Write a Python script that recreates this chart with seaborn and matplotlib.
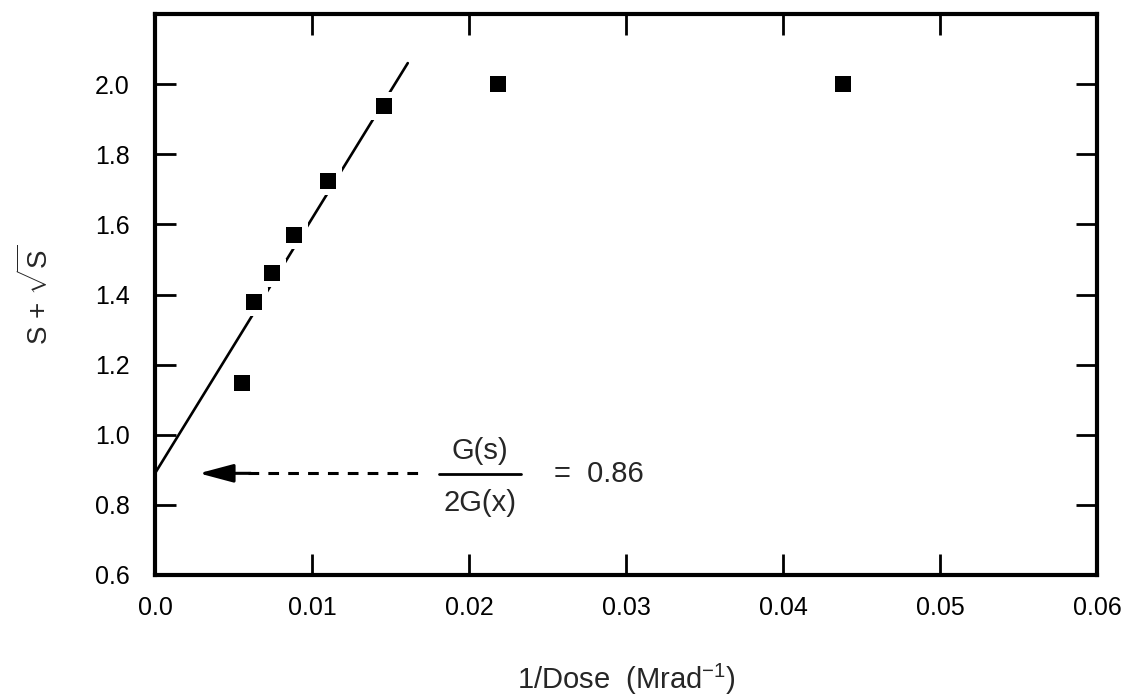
import matplotlib
matplotlib.use('Agg')
import matplotlib.pyplot as plt
import seaborn as sns
import pandas as pd

# ---- data ----
inv_dose = [0.00554, 0.00631, 0.00745, 0.00885, 0.01102, 0.01459, 0.02185, 0.04382]
s_value = [1.149, 1.380, 1.460, 1.571, 1.723, 1.937, 2.000, 2.000]
fit_x = [0.0, 0.0161]
fit_y = [0.89, 2.06]
intercept = 0.89
ratio_text = '0.86'
x_ticks = [0.0, 0.01, 0.02, 0.03, 0.04, 0.05, 0.06]
x_tick_labels = ['0.0', '0.01', '0.02', '0.03', '0.04', '0.05', '0.06']
y_ticks = [0.6, 0.8, 1.0, 1.2, 1.4, 1.6, 1.8, 2.0]
y_tick_labels = ['0.6', '0.8', '1.0', '1.2', '1.4', '1.6', '1.8', '2.0']

sns.set_style('ticks')
plt.rcParams['font.family'] = ['Liberation Sans', 'DejaVu Sans']
plt.rcParams['mathtext.fontset'] = 'custom'
plt.rcParams['mathtext.rm'] = 'Liberation Sans'
plt.rcParams['mathtext.it'] = 'Liberation Sans'

fig = plt.figure(figsize=(11.32, 6.96), dpi=100)
ax = fig.add_axes([155 / 1132, 121 / 696, 942 / 1132, 561 / 696])

df_pts = pd.DataFrame({'x': inv_dose, 'y': s_value})
df_fit = pd.DataFrame({'x': fit_x, 'y': fit_y})

sns.lineplot(data=df_fit, x='x', y='y', color='black', linewidth=1.9, ax=ax, zorder=2)
# white halo to break the fit line around the points
sns.scatterplot(data=df_pts, x='x', y='y', marker='s', s=420, color='white',
                linewidth=0, ax=ax, zorder=3)
sns.scatterplot(data=df_pts, x='x', y='y', marker='s', s=121, color='black',
                linewidth=0, ax=ax, zorder=4)

# intercept arrow
ax.plot([0.0059, 0.0171], [intercept, intercept], color='black', lw=2.2,
        ls=(0, (3.5, 3)), zorder=2)
ax.annotate('', xy=(0.0028, intercept), xytext=(0.0061, intercept),
            arrowprops=dict(arrowstyle='-|>,head_length=1.05,head_width=0.28',
                            color='black', lw=2.2, shrinkA=0, shrinkB=0,
                            mutation_scale=20))

# fraction annotation
ax.text(0.0207, 0.953, 'G(s)', ha='center', va='center', fontsize=21)
ax.text(0.0207, 0.805, '2G(x)', ha='center', va='center', fontsize=21)
ax.plot([0.0181, 0.0233], [0.888, 0.888], color='black', lw=2.0)
ax.text(0.0254, 0.888, '=  ' + ratio_text, ha='left', va='center', fontsize=21)

ax.set_xlim(0.0, 0.06)
ax.set_ylim(0.6, 2.2)
ax.set_xticks(x_ticks)
ax.set_xticklabels(x_tick_labels)
ax.set_yticks(y_ticks)
ax.set_yticklabels(y_tick_labels)
ax.tick_params(direction='in', length=15, width=2, labelsize=18,
               top=True, right=True, colors='black')
ax.tick_params(axis='x', pad=15)
ax.tick_params(axis='y', pad=18)
for sp in ax.spines.values():
    sp.set_linewidth(3)
    sp.set_color('black')

ax.set_xlabel('1/Dose  (Mrad$^{-1}$)', fontsize=21, labelpad=30)
ax.set_ylabel(r'S + $\sqrt{\mathrm{S}}$', fontsize=20, labelpad=30)

fig.savefig('out.png', dpi=100)
